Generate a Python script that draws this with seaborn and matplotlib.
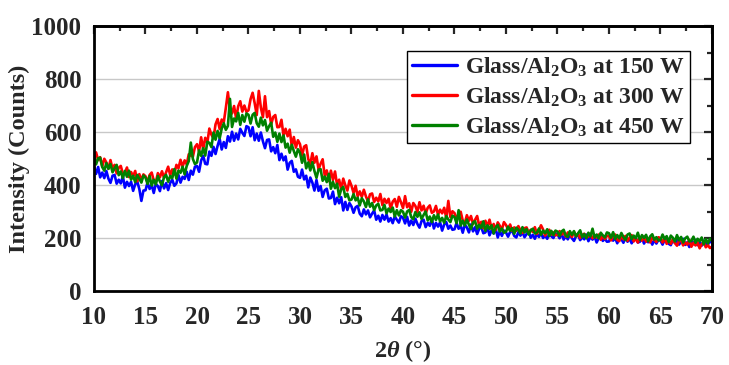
import numpy as np
import pandas as pd
import matplotlib
matplotlib.use("Agg")
import matplotlib.pyplot as plt
from matplotlib.ticker import MultipleLocator
import seaborn as sns

# 2-theta scan grid: 10 to 70 degrees in 0.2 degree steps
two_theta = np.linspace(10, 70, 301)

# XRD intensities (counts), one row per 5 degrees
counts_150w = [
    469, 442, 468, 429, 447, 426, 453, 424, 408, 435, 438, 405, 420, 406, 433, 390, 412, 396, 412, 378, 403, 413, 385, 340, 379,
    380, 410, 385, 401, 370, 404, 396, 377, 415, 387, 407, 381, 408, 420, 397, 406, 438, 409, 431, 423, 450, 419, 454, 439, 469,
    472, 450, 492, 510, 480, 478, 526, 510, 544, 517, 548, 574, 534, 562, 540, 584, 564, 601, 567, 594, 572, 612, 597, 585, 622,
    618, 584, 618, 569, 594, 567, 598, 565, 539, 570, 572, 527, 543, 520, 551, 494, 518, 493, 508, 458, 484, 491, 450, 459, 431,
    427, 458, 421, 435, 391, 428, 409, 379, 419, 378, 396, 355, 380, 386, 349, 351, 375, 328, 352, 331, 354, 304, 336, 306, 332,
    319, 295, 316, 321, 292, 282, 308, 289, 304, 278, 292, 304, 269, 284, 262, 287, 269, 289, 262, 275, 256, 282, 269, 258, 282,
    277, 255, 280, 247, 266, 249, 273, 253, 239, 264, 269, 241, 257, 246, 272, 236, 257, 243, 259, 228, 251, 260, 235, 247, 231,
    233, 257, 235, 247, 220, 250, 240, 221, 251, 225, 241, 215, 235, 241, 218, 221, 241, 210, 229, 217, 235, 202, 226, 208, 228,
    221, 205, 223, 227, 208, 202, 222, 209, 222, 203, 215, 225, 201, 212, 197, 216, 204, 219, 200, 210, 197, 216, 207, 200, 217,
    214, 199, 217, 194, 207, 195, 214, 199, 189, 207, 211, 192, 203, 195, 213, 188, 204, 194, 206, 183, 200, 207, 189, 197, 186,
    187, 206, 190, 200, 180, 202, 196, 182, 205, 186, 198, 180, 194, 200, 183, 186, 201, 179, 193, 184, 198, 175, 192, 179, 193,
    190, 175, 193, 197, 178, 173, 193, 181, 193, 175, 187, 197, 174, 184, 166, 189, 177, 193, 173, 184, 171, 190, 182, 174, 192,
    180,
]

counts_300w = [
    498, 523, 494, 505, 470, 499, 485, 461, 494, 461, 476, 444, 465, 472, 443, 446, 466, 430, 449, 433, 453, 414, 441, 418, 440,
    433, 410, 438, 447, 417, 410, 445, 429, 452, 427, 448, 469, 437, 459, 441, 476, 463, 495, 469, 493, 478, 516, 511, 507, 543,
    554, 527, 580, 535, 578, 559, 613, 590, 576, 629, 649, 611, 647, 637, 691, 750, 682, 670, 698, 651, 697, 716, 677, 700, 676,
    682, 724, 748, 709, 664, 755, 692, 656, 735, 656, 679, 629, 657, 664, 618, 619, 646, 586, 612, 584, 609, 546, 581, 541, 569,
    554, 511, 545, 550, 498, 479, 520, 484, 508, 459, 480, 497, 435, 455, 415, 454, 419, 451, 400, 420, 383, 424, 399, 379, 417,
    397, 370, 397, 357, 376, 355, 382, 357, 338, 365, 368, 336, 352, 338, 366, 324, 348, 332, 348, 312, 337, 347, 318, 355, 335,
    313, 358, 316, 331, 299, 332, 321, 299, 335, 304, 322, 292, 314, 323, 295, 300, 321, 287, 307, 293, 314, 275, 340, 279, 301,
    294, 268, 293, 299, 266, 256, 286, 265, 283, 253, 269, 283, 245, 261, 237, 265, 244, 269, 236, 253, 230, 259, 246, 232, 260,
    249, 233, 251, 227, 240, 227, 245, 230, 219, 237, 240, 220, 231, 223, 241, 215, 230, 248, 232, 209, 225, 231, 213, 221, 210,
    212, 226, 213, 221, 205, 221, 215, 204, 222, 207, 216, 200, 212, 216, 203, 205, 216, 199, 209, 202, 213, 193, 208, 196, 209,
    206, 191, 208, 213, 193, 188, 208, 195, 208, 189, 201, 211, 187, 198, 183, 202, 190, 205, 186, 196, 183, 201, 193, 185, 203,
    199, 183, 201, 178, 191, 178, 196, 181, 171, 189, 192, 172, 183, 175, 193, 167, 182, 172, 184, 161, 177, 183, 165, 173, 162,
    168,
]

counts_450w = [
    508, 478, 501, 503, 468, 454, 483, 461, 479, 448, 463, 476, 437, 451, 426, 453, 431, 454, 420, 435, 411, 438, 424, 409, 436,
    428, 404, 434, 398, 420, 402, 434, 413, 399, 430, 438, 412, 434, 426, 460, 424, 455, 446, 469, 440, 472, 490, 560, 498, 479,
    485, 531, 510, 539, 511, 563, 559, 543, 598, 571, 604, 576, 613, 633, 608, 623, 725, 619, 651, 640, 672, 627, 664, 639, 670,
    665, 632, 665, 672, 633, 620, 654, 625, 645, 605, 622, 635, 582, 598, 563, 594, 562, 587, 541, 556, 522, 552, 528, 507, 535,
    521, 484, 515, 463, 485, 455, 486, 453, 427, 458, 460, 416, 432, 411, 442, 386, 412, 388, 405, 356, 384, 393, 355, 367, 342,
    345, 366, 342, 352, 323, 350, 338, 317, 346, 318, 332, 305, 323, 329, 304, 306, 325, 293, 311, 298, 315, 281, 305, 285, 305,
    299, 277, 300, 306, 279, 271, 298, 280, 297, 272, 287, 300, 266, 281, 260, 286, 268, 289, 262, 276, 257, 283, 270, 260, 284,
    279, 256, 305, 247, 265, 247, 270, 250, 234, 259, 263, 235, 250, 238, 263, 227, 248, 234, 248, 217, 240, 249, 224, 236, 220,
    224, 243, 227, 237, 216, 239, 231, 217, 241, 221, 234, 213, 229, 235, 217, 220, 236, 212, 228, 218, 233, 207, 227, 211, 228,
    224, 207, 225, 231, 209, 204, 226, 212, 226, 206, 218, 229, 203, 215, 199, 220, 206, 235, 202, 213, 199, 220, 210, 202, 221,
    218, 201, 222, 196, 211, 199, 219, 204, 192, 213, 217, 196, 209, 199, 220, 193, 211, 200, 212, 188, 206, 214, 194, 203, 191,
    193, 213, 196, 207, 185, 209, 201, 187, 211, 191, 204, 183, 199, 205, 187, 190, 205, 182, 197, 188, 202, 176, 196, 180, 197,
    190,
]

series_labels = [
    r"Glass/Al$_2$O$_3$ at 150 W",
    r"Glass/Al$_2$O$_3$ at 300 W",
    r"Glass/Al$_2$O$_3$ at 450 W",
]
series_colors = ["#0000ff", "#ff0000", "#008000"]

sns.set_style("white")
plt.rcParams["font.family"] = ["Liberation Serif", "DejaVu Serif"]
plt.rcParams["font.weight"] = "bold"
plt.rcParams["mathtext.fontset"] = "custom"
plt.rcParams["mathtext.rm"] = "Liberation Serif:bold"
plt.rcParams["mathtext.it"] = "Liberation Serif:italic:bold"
plt.rcParams["mathtext.bf"] = "Liberation Serif:bold"

frames = []
for label, values in zip(series_labels, [counts_150w, counts_300w, counts_450w]):
    frames.append(pd.DataFrame({"two_theta": two_theta, "counts": values, "sample": label}))
df = pd.concat(frames, ignore_index=True)

fig = plt.figure(figsize=(7.29, 3.65), dpi=100)
ax = fig.add_axes([94 / 729, 1 - 291 / 365, 618 / 729, 265 / 365])

# horizontal reference lines behind the data
for yv in [200, 400, 600, 800]:
    ax.axhline(yv, color="#c8c8c8", lw=1.0, zorder=0)

sns.lineplot(data=df, x="two_theta", y="counts", hue="sample",
             palette=dict(zip(series_labels, series_colors)),
             estimator=None, sort=False, lw=1.9, ax=ax, legend=False)

ax.set_xlim(10, 70)
ax.set_ylim(0, 1000)
ax.xaxis.set_major_locator(MultipleLocator(5))
ax.xaxis.set_minor_locator(MultipleLocator(2.5))
ax.yaxis.set_major_locator(MultipleLocator(200))
ax.yaxis.set_minor_locator(MultipleLocator(100))
ax.tick_params(which="major", direction="out", length=6, width=1.6,
               labelsize=18, pad=3)
ax.tick_params(axis="x", which="major", pad=5)
ax.tick_params(which="minor", direction="out", length=3.5, width=1.6)
for lab in ax.get_xticklabels() + ax.get_yticklabels():
    lab.set_fontweight("bold")

for side in ["top", "right"]:
    if side == "top":
        sec = ax.secondary_xaxis("top")
        sec.xaxis.set_major_locator(MultipleLocator(5))
        sec.xaxis.set_minor_locator(MultipleLocator(2.5))
    else:
        sec = ax.secondary_yaxis("right")
        sec.yaxis.set_major_locator(MultipleLocator(200))
        sec.yaxis.set_minor_locator(MultipleLocator(100))
    sec.tick_params(which="major", direction="in", length=6, width=1.6,
                    labelleft=False, labelright=False, labeltop=False, labelbottom=False)
    sec.tick_params(which="minor", direction="in", length=3.5, width=1.6)
    for sp in sec.spines.values():
        sp.set_linewidth(2.0)

for sp in ax.spines.values():
    sp.set_linewidth(2.0)
    sp.set_color("black")

ax.set_xlabel(r"2$\theta$ (°)", fontsize=17.5, fontweight="bold", labelpad=6)
ax.set_ylabel("Intensity (Counts)", fontsize=17.5, fontweight="bold", labelpad=1)

handles = [plt.Line2D([], [], color=c, lw=2.4) for c in series_colors]
leg = ax.legend(handles, series_labels, loc="upper right",
                bbox_to_anchor=(0.964, 0.906), borderaxespad=0,
                prop={"family": "Liberation Serif", "weight": "bold", "size": 17},
                frameon=True, fancybox=False, framealpha=1, edgecolor="black",
                handlelength=1.9, handletextpad=0.35, labelspacing=0.28,
                borderpad=0.2)
leg.get_frame().set_linewidth(1.0)

fig.savefig("out.png", dpi=100)
